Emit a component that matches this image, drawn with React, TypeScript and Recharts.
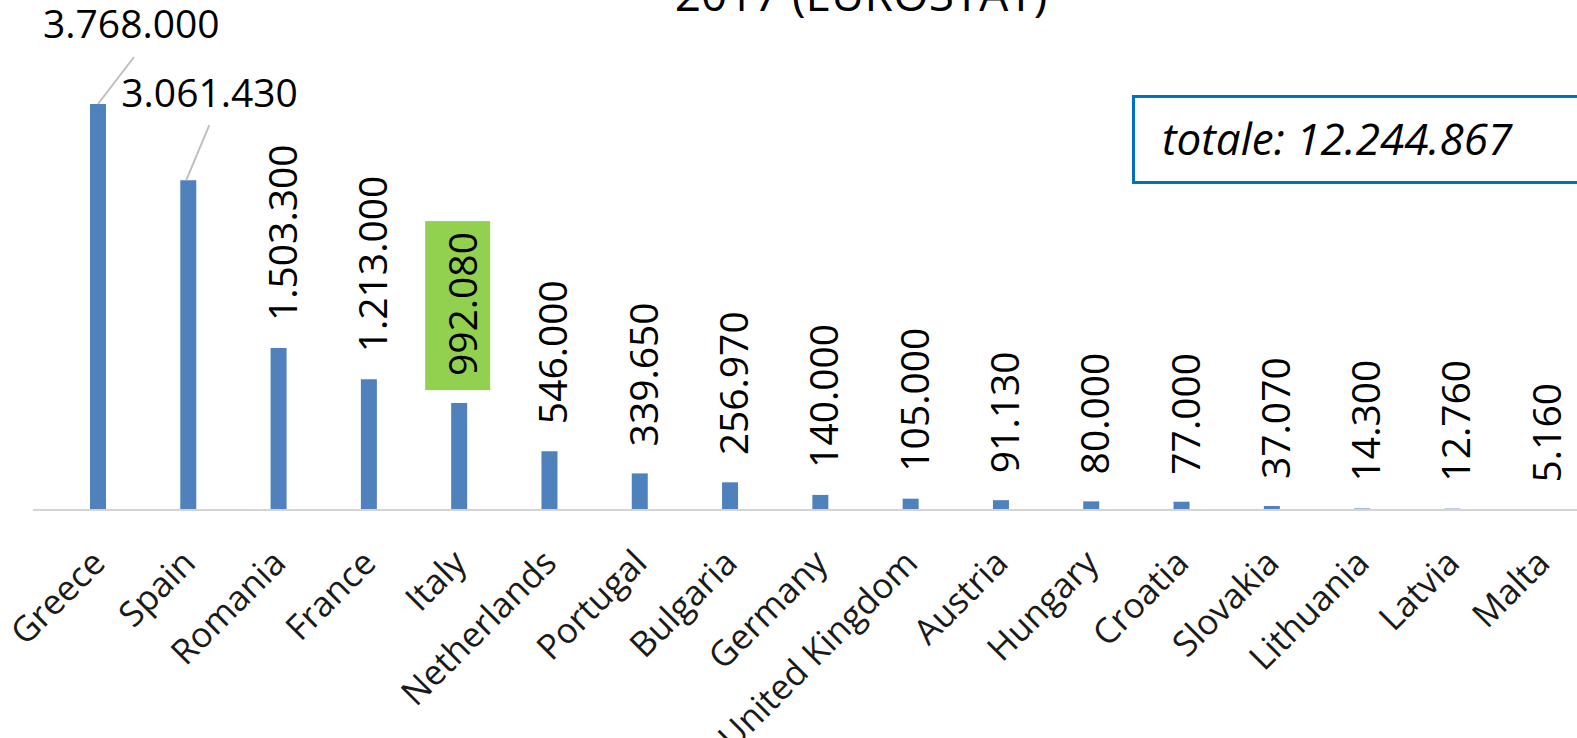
import React from 'react';
import { BarChart, Bar, XAxis, YAxis, LabelList } from 'recharts';

const countries = [
  'Greece', 'Spain', 'Romania', 'France', 'Italy', 'Netherlands', 'Portugal', 'Bulgaria', 'Germany',
  'United Kingdom', 'Austria', 'Hungary', 'Croatia', 'Slovakia', 'Lithuania', 'Latvia', 'Malta',
];
const values = [
  3768000, 3061430, 1503300, 1213000, 992080, 546000, 339650, 256970, 140000,
  105000, 91130, 80000, 77000, 37070, 14300, 12760, 5160,
];
const titleText = '2017 (EUROSTAT)';
const totalText = 'totale: 12.244.867';

const FONT = '"Open Sans", "Liberation Sans", sans-serif';
const BAR_COLOR = '#4f81bd';

// dotted thousands, like the original (3.768.000)
const fmt = (v: number) => String(v).replace(/\B(?=(\d{3})+(?!\d))/g, '.');

const data = countries.map((name, i) => ({ name, value: values[i] }));

// the two tallest bars have their labels moved aside with a leader line
const callouts: Record<number, { tx: number; ty: number; lx1: number; lx2: number; ly2: number }> = {
  0: { tx: -55, ty: -66, lx1: 0, lx2: 36, ly2: -47 },
  1: { tx: -67, ty: -73, lx1: -2, lx2: 21, ly2: -55 },
};

const ValueLabel = (props: any) => {
  const { x, y, width, index, value } = props;
  const cx = x + width / 2;
  const top = y;
  const c = callouts[index];
  if (c) {
    return (
      <g>
        <line x1={cx + c.lx1} y1={top} x2={cx + c.lx2} y2={top + c.ly2} stroke="#bfbfbf" strokeWidth={2} />
        <text x={cx + c.tx} y={top + c.ty} fontSize={39} fontFamily={FONT} fill="#000">
          {fmt(value)}
        </text>
      </g>
    );
  }
  const ax = cx + 18;
  const ay = top - 27;
  return (
    <g>
      {countries[index] === 'Italy' && (
        <rect x={cx - 34} y={top - 182} width={65} height={169} fill="#92d050" />
      )}
      <text
        x={ax}
        y={ay}
        transform={`rotate(-90, ${ax}, ${ay})`}
        fontSize={39}
        fontFamily={FONT}
        fill="#000"
        textAnchor="start"
      >
        {fmt(value)}
      </text>
    </g>
  );
};

const CountryTick = (props: any) => {
  const { x, y, payload } = props;
  const ax = x + 9;
  const ay = y + 55;
  return (
    <text
      x={ax}
      y={ay}
      transform={`rotate(-45, ${ax}, ${ay})`}
      textAnchor="end"
      fontSize={35}
      fontFamily={FONT}
      fill="#1a1a1a"
    >
      {payload.value}
    </text>
  );
};

export default function App() {
  return (
    <div style={{ position: 'absolute', left: 0, top: 0, width: 1577, height: 738, overflow: 'hidden', background: '#fff' }}>
      <BarChart
        width={1600}
        height={738}
        data={data}
        margin={{ top: 79, right: 12, left: 33, bottom: 0 }}
        barSize={16}
      >
        <XAxis
          dataKey="name"
          interval={0}
          padding={{ left: 20, right: 0 }}
          axisLine={{ stroke: '#d4d4d4', strokeWidth: 2 }}
          tickLine={false}
          tickSize={0}
          tickMargin={0}
          tick={<CountryTick />}
          height={228}
        />
        <YAxis hide domain={[0, 4000000]} />
        <Bar dataKey="value" fill={BAR_COLOR} isAnimationActive={false}>
          <LabelList dataKey="value" content={<ValueLabel />} />
        </Bar>
      </BarChart>
      <svg width={1577} height={738} style={{ position: 'absolute', left: 0, top: 0, pointerEvents: 'none' }}>
        <text x={861} y={11} textAnchor="middle" fontSize={46} fontFamily={FONT} fill="#000">
          {titleText}
        </text>
        <rect x={1133.5} y={96.5} width={480} height={86} fill="#fff" stroke="#0070c0" strokeWidth={3} />
        <text x={1162} y={155} fontSize={44} fontStyle="italic" fontFamily={FONT} fill="#000">
          {totalText}
        </text>
      </svg>
    </div>
  );
}
